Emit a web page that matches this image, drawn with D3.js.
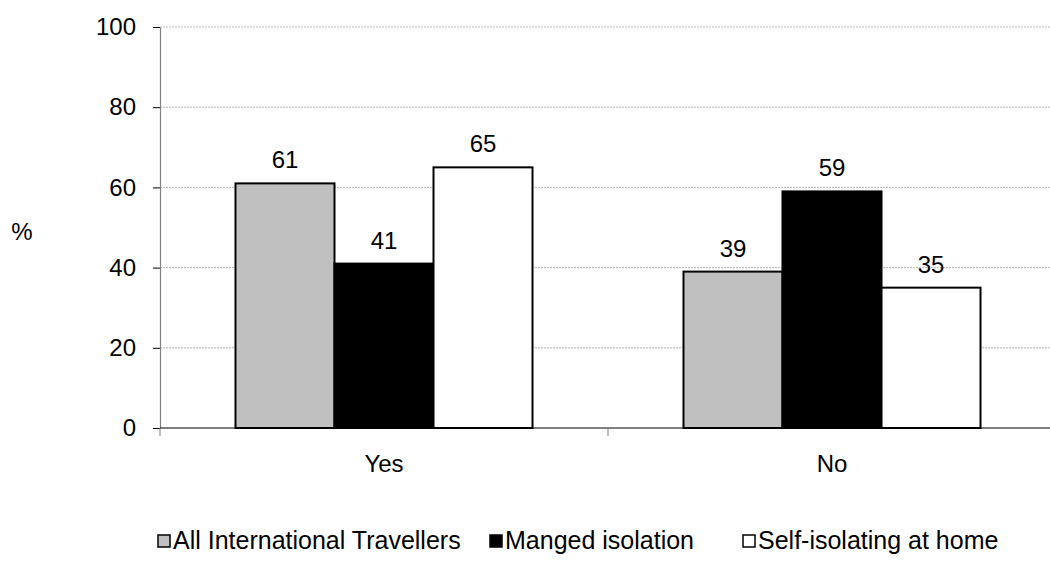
<!DOCTYPE html>
<html><head><meta charset="utf-8">
<script src="https://cdn.jsdelivr.net/npm/d3@7"></script>
<style>body{margin:0;background:#fff}svg{display:block}text{font-family:"Liberation Sans",Arial,sans-serif;fill:#000}</style>
</head><body><svg id="c" width="1050" height="573"></svg>
<script>
const categories = ["Yes", "No"];
const seriesNames = ["All International Travellers", "Manged isolation", "Self-isolating at home"];
const allTravellers = [61, 39];
const managedIsolation = [41, 59];
const selfIsolating = [65, 35];
const yTicks = [0, 20, 40, 60, 80, 100];
const colors = ["#c0c0c0", "#000000", "#ffffff"];

(function () {
const series = [allTravellers, managedIsolation, selfIsolating];
const svg = d3.select("#c");
const pLeft = 160, pRight = 1056, pTop = 27, pBottom = 428;
const fs = 24;

const x = d3.scaleBand().domain(categories).range([pLeft, pRight]).paddingInner(0).paddingOuter(0);
const y = d3.scaleLinear().domain([0, 100]).range([pBottom, pTop]);
const groupPad = 0.337;
const gw = x.bandwidth() * (1 - groupPad);
const inner = d3.scaleBand().domain(d3.range(series.length))
  .range([(x.bandwidth() - gw) / 2, (x.bandwidth() + gw) / 2]).padding(0);

// gridlines
svg.append("g").selectAll("line").data(yTicks.filter(d => d > 0)).join("line")
  .attr("x1", pLeft).attr("x2", 1050)
  .attr("y1", d => y(d)).attr("y2", d => y(d))
  .attr("stroke", "#b8b8b8").attr("stroke-width", 1).attr("stroke-dasharray", "2,1");

// bars
series.forEach((vals, si) => {
  svg.append("g").selectAll("rect").data(vals).join("rect")
    .attr("x", (d, i) => x(categories[i]) + inner(si))
    .attr("y", d => y(d))
    .attr("width", inner.bandwidth())
    .attr("height", d => y(0) - y(d))
    .attr("fill", colors[si]).attr("stroke", "#000").attr("stroke-width", 2);
  svg.append("g").selectAll("text").data(vals).join("text")
    .attr("x", (d, i) => x(categories[i]) + inner(si) + inner.bandwidth() / 2)
    .attr("y", d => y(d) - 15)
    .attr("text-anchor", "middle").attr("font-size", fs)
    .text(d => d);
});

// y axis
const yAxis = d3.axisLeft(y).tickValues(yTicks).tickSize(7).tickPadding(17).tickSizeOuter(0);
const gy = svg.append("g").attr("transform", `translate(${pLeft},0)`).call(yAxis);
gy.select(".domain").attr("stroke", "#808080").attr("stroke-width", 1.2);
gy.selectAll(".tick line").attr("stroke", "#000");
gy.selectAll("text").attr("font-size", fs).style("font-family", '"Liberation Sans",Arial,sans-serif');

// x axis
const gx = svg.append("g").attr("transform", `translate(0,${pBottom})`);
gx.append("line").attr("x1", pLeft).attr("x2", 1050).attr("y1", 0).attr("y2", 0).attr("stroke", "#000").attr("stroke-width", 1.2);
gx.selectAll("line.t").data([...categories.map(c => x(c)), pRight]).join("line").attr("class", "t")
  .attr("x1", d => d).attr("x2", d => d).attr("y1", 0).attr("y2", 8).attr("stroke", "#808080");
gx.selectAll("text").data(categories).join("text")
  .attr("x", d => x(d) + x.bandwidth() / 2).attr("y", 44)
  .attr("text-anchor", "middle").attr("font-size", fs).text(d => d);

svg.append("text").attr("x", 22).attr("y", 240).attr("text-anchor", "middle").attr("font-size", fs).text("%");

// legend
const legendX = [158, 490, 743];
const lg = svg.append("g");
seriesNames.forEach((n, i) => {
  lg.append("rect").attr("x", legendX[i]).attr("y", 535).attr("width", 12).attr("height", 12)
    .attr("fill", colors[i]).attr("stroke", "#000").attr("stroke-width", 1.5);
  lg.append("text").attr("x", legendX[i] + 15).attr("y", 549).attr("font-size", 25).text(n);
});
})();
</script></body></html>
